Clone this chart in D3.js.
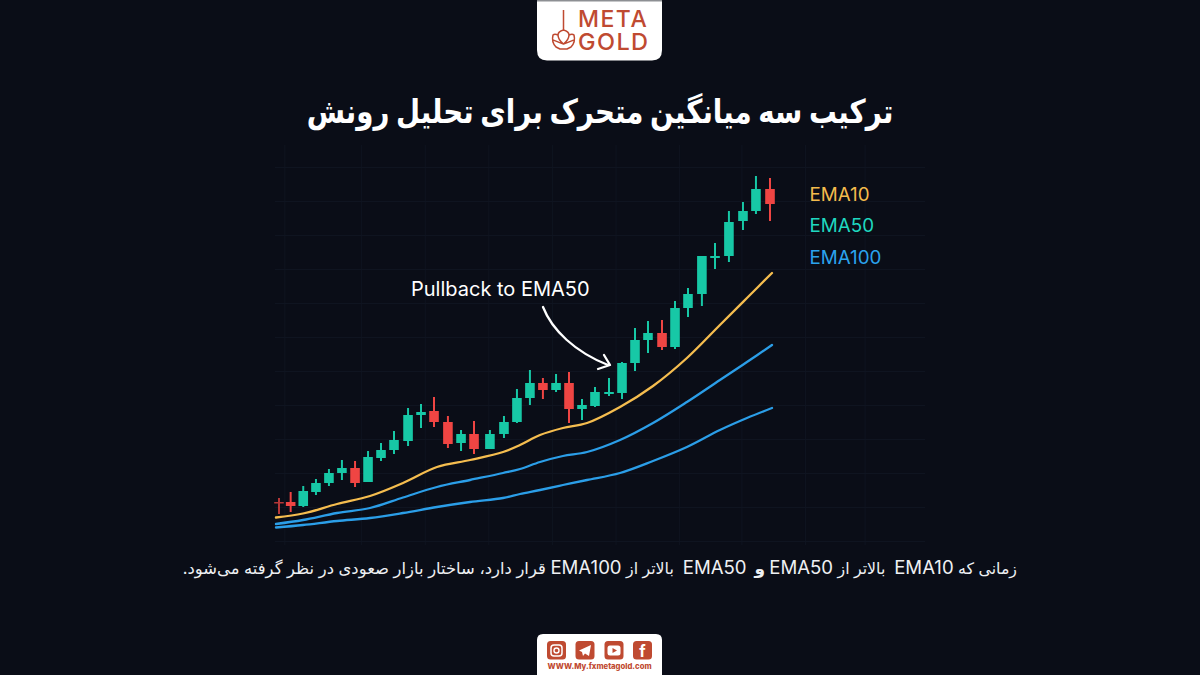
<!DOCTYPE html>
<html lang="fa">
<head>
<meta charset="utf-8">
<title>EMA trend structure</title>
<script src="https://cdn.jsdelivr.net/npm/d3@7/dist/d3.min.js"></script>
<style>
  html, body { margin: 0; padding: 0; background: #0a0d17; }
  svg { display: block; }
  text { font-family: "Inter", "DejaVu Sans", sans-serif; }
</style>
</head>
<body>
<svg id="chart" width="1200" height="675"></svg>
<script>
// Candle series: session position on the time axis plus open / high / low / close
const sessions = [0, 0.88, 1.83, 2.79, 3.77, 4.75, 5.74, 6.72, 7.7, 8.68, 9.74, 10.72, 11.7, 12.75, 13.74, 14.72, 15.92, 16.98, 17.96, 18.94, 19.92, 20.91, 21.89, 22.87, 23.85, 24.91, 25.89, 26.87, 27.85, 28.91, 29.89, 30.87, 31.92, 32.91, 33.96, 35.02, 36, 37.06];
const opens  = [2086, 2086, 2078, 2106, 2124, 2144, 2154, 2126, 2174, 2190, 2208, 2260, 2268, 2246, 2204, 2222, 2192, 2222, 2246, 2294, 2324, 2310, 2324, 2272, 2278, 2302, 2304, 2364, 2410, 2424, 2396, 2474, 2502, 2574, 2578, 2648, 2668, 2712];
const highs  = [2094, 2106, 2118, 2132, 2152, 2170, 2168, 2188, 2204, 2228, 2274, 2282, 2296, 2258, 2230, 2248, 2230, 2258, 2312, 2350, 2334, 2342, 2346, 2292, 2316, 2334, 2366, 2434, 2448, 2450, 2488, 2514, 2578, 2604, 2668, 2686, 2738, 2734];
const lows   = [2062, 2066, 2076, 2100, 2118, 2130, 2116, 2126, 2168, 2182, 2198, 2234, 2236, 2194, 2188, 2182, 2192, 2214, 2244, 2280, 2292, 2306, 2244, 2250, 2276, 2298, 2292, 2348, 2384, 2390, 2392, 2456, 2478, 2552, 2566, 2630, 2662, 2648];
const closes = [2084, 2078, 2108, 2124, 2144, 2154, 2124, 2176, 2190, 2210, 2260, 2266, 2246, 2202, 2222, 2192, 2222, 2246, 2294, 2324, 2310, 2324, 2272, 2280, 2306, 2306, 2364, 2410, 2424, 2396, 2474, 2502, 2578, 2578, 2646, 2668, 2712, 2682];

// Moving averages, sampled along the same time axis
const emaSessions = [-0.23, 1.81, 4.38, 6.87, 9.36, 11.92, 14.42, 16.91, 18.19, 19.7, 21.43, 23.25, 25.74, 28.23, 30.79, 33.28, 35.32, 37.21];
const ema10  = [2055, 2063, 2082, 2098, 2124, 2156, 2170, 2186, 2200, 2220, 2234, 2244, 2276, 2318, 2374, 2440, 2494, 2544];
const ema50  = [2042, 2050, 2064, 2074, 2095, 2116, 2130, 2144, 2152, 2166, 2178, 2186, 2210, 2244, 2286, 2330, 2366, 2400];
const ema100 = [2035, 2040, 2048, 2054, 2064, 2076, 2086, 2094, 2102, 2110, 2120, 2130, 2144, 2168, 2196, 2230, 2254, 2274];

const legendLabels = ["EMA10", "EMA50", "EMA100"];
const legendColors = ["#f4bb4c", "#1fd8c0", "#2ba3ee"];

const gridPrices = [2008, 2076, 2144, 2212, 2280, 2348, 2416, 2484, 2552, 2620, 2688, 2756];
const gridSessions = [0.4, 6.2, 11, 15.8, 20.6, 25.4, 30.2, 34.9, 39.7, 44.2];

const titleText = "ترکیب سه میانگین متحرک برای تحلیل رونش";
const annotationText = "Pullback to EMA50";
const captionParts = [
  { text: "زمانی که ", size: 15.8, weight: 400 },
  { text: "EMA10", size: 18.6, weight: 400 },
  { text: "  بالاتر از ", size: 15.8, weight: 400 },
  { text: "EMA50", size: 18.6, weight: 400 },
  { text: " و  ", size: 17, weight: 700 },
  { text: "EMA50", size: 18.6, weight: 400 },
  { text: "  بالاتر از ", size: 15.8, weight: 400 },
  { text: "EMA100", size: 18.6, weight: 400 },
  { text: " قرار دارد، ساختار بازار صعودی در نظر گرفته می‌شود.", size: 16.4, weight: 400 }
];
const siteText = "WWW.My.fxmetagold.com";

const svg = d3.select("#chart");
const x = d3.scaleLinear().domain([0, 37.06]).range([279, 770]);
const y = d3.scaleLinear().domain([2000, 2800]).range([545, 145]);

// Faint chart grid
const gridColor = "#0f1420";
const gridX = d3.axisBottom(x).tickValues(gridSessions).tickSize(400).tickFormat("");
const gridY = d3.axisLeft(y).tickValues(gridPrices).tickSize(-650).tickFormat("");
const gx = svg.append("g").attr("transform", "translate(0,145)").call(gridX);
const gy = svg.append("g").attr("transform", "translate(275,0)").call(gridY);
[gx, gy].forEach(g => {
  g.select(".domain").remove();
  g.selectAll("line").attr("stroke", gridColor).attr("stroke-width", 1);
});

// Moving-average lines
const line = d3.line().x((d, i) => x(emaSessions[i])).y(d => y(d)).curve(d3.curveCatmullRom.alpha(0.5));
[[ema100, "#2b9ee8"], [ema50, "#2b9ee8"], [ema10, "#f5bd4f"]].forEach(([vals, color]) => {
  svg.append("path").datum(vals).attr("d", line)
    .attr("fill", "none").attr("stroke", color).attr("stroke-width", 2.3)
    .attr("stroke-linecap", "round");
});

// Candles
const candleUp = "#17c8a6", candleDown = "#ef4543";
const candles = svg.append("g").selectAll("g").data(sessions).join("g")
  .attr("fill", (d, i) => closes[i] >= opens[i] ? candleUp : candleDown)
  .attr("stroke", (d, i) => closes[i] >= opens[i] ? candleUp : candleDown)
  .attr("opacity", (d, i) => i === 0 ? 0.75 : 1);
candles.append("line")
  .attr("x1", d => x(d)).attr("x2", d => x(d))
  .attr("y1", (d, i) => y(highs[i])).attr("y2", (d, i) => y(lows[i]))
  .attr("stroke-width", 2);
candles.append("rect")
  .attr("x", d => x(d) - 4.8).attr("width", 9.6)
  .attr("y", (d, i) => y(Math.max(opens[i], closes[i])))
  .attr("height", (d, i) => Math.max(1.5, Math.abs(y(opens[i]) - y(closes[i]))))
  .attr("stroke", "none");

// Legend
svg.append("g").selectAll("text").data(legendLabels).join("text")
  .attr("x", 809.5).attr("y", (d, i) => [201, 232, 264][i])
  .attr("fill", (d, i) => legendColors[i])
  .attr("font-size", 18.8).attr("font-weight", 400).text(d => d);

// Annotation and its arrow
svg.append("text").attr("x", 411).attr("y", 296).attr("fill", "#fff")
  .attr("font-size", 20).attr("font-weight", 400).text(annotationText);
svg.append("path")
  .attr("d", "M543,307 C552,330 575,352 608,365 M604,355 L610,365 L598,369")
  .attr("fill", "none").attr("stroke", "#fff").attr("stroke-width", 2.3)
  .attr("stroke-linecap", "round").attr("stroke-linejoin", "round");

// Headline and explanatory line
svg.append("text").attr("transform", "translate(600,123) scale(0.84,1)").attr("text-anchor", "middle")
  .attr("direction", "rtl").attr("fill", "#fff").attr("font-weight", 700)
  .attr("font-size", 33).attr("font-family", "'DejaVu Sans'").text(titleText);

const caption = svg.append("text").attr("x", 1017).attr("y", 574).attr("text-anchor", "start")
  .attr("direction", "rtl").attr("fill", "#eef0f3").style("white-space", "pre");
captionParts.forEach(p => {
  caption.append("tspan").attr("font-size", p.size).attr("font-weight", p.weight).text(p.text);
});

// Brand plate at the top
const brand = "#bf4a31";
const logo = svg.append("g");
logo.append("path").attr("fill", "#fff")
  .attr("d", "M537,0 H662 V50 Q662,60.5 652,60.5 H547 Q537,60.5 537,50 Z");
logo.append("rect").attr("x", 537).attr("y", 0).attr("width", 125).attr("height", 1.5).attr("fill", "#8d8f93");
logo.append("path").attr("fill", "none").attr("stroke", brand).attr("stroke-width", 1.5)
  .attr("stroke-linejoin", "round")
  .attr("d", "M563.5,10 V30 M563.5,30 C560,31 558,33 558,35 C556,34 554,34 553,35 C552,39 553,44 556,47 L560,49 H567 L571,47 C574,44 575,39 574,35 C573,34 571,34 569,35 C569,33 567,31 563.5,30 Z M558,35 C558,39 561,42 563.5,44 C566,42 569,39 569,35 M553,40 C556,41 560,43 563.5,44 C567,43 571,41 574,40");
logo.append("text").attr("x", 578).attr("y", 27).attr("fill", brand)
  .attr("font-size", 23).attr("font-weight", 500).attr("letter-spacing", 1.5).text("META");
logo.append("text").attr("x", 578).attr("y", 50).attr("fill", brand)
  .attr("font-size", 23.5).attr("font-weight", 500).attr("letter-spacing", 1.4).text("GOLD");

// Social plate at the bottom
const social = svg.append("g");
social.append("path").attr("fill", "#fff")
  .attr("d", "M537,675 V640 Q537,634 543,634 H656 Q662,634 662,640 V675 Z");
const iconX = [547, 575.5, 604.5, 633];
social.selectAll("rect.icon").data(iconX).join("rect").attr("class", "icon")
  .attr("x", d => d).attr("y", 641).attr("width", 19).attr("height", 18.5).attr("rx", 3.5).attr("fill", brand);
social.append("rect").attr("x", 551).attr("y", 645).attr("width", 11).attr("height", 11).attr("rx", 3)
  .attr("fill", "none").attr("stroke", "#fff").attr("stroke-width", 1.5);
social.append("circle").attr("cx", 556.5).attr("cy", 650.5).attr("r", 2.5)
  .attr("fill", "none").attr("stroke", "#fff").attr("stroke-width", 1.4);
social.append("path").attr("fill", "#fff").attr("d", "M579,650.5 L591,645 L589,656 L585,653.5 L583,656 L582,652 Z");
social.append("rect").attr("x", 607.5).attr("y", 645.5).attr("width", 13).attr("height", 10).attr("rx", 2.5).attr("fill", "#fff");
social.append("path").attr("fill", brand).attr("d", "M612.5,648 L617,650.5 L612.5,653 Z");
social.append("text").attr("x", 642.5).attr("y", 657).attr("text-anchor", "middle")
  .attr("fill", "#fff").attr("font-size", 16).attr("font-weight", 700).text("f");
social.append("text").attr("x", 599.5).attr("y", 669).attr("text-anchor", "middle")
  .attr("fill", brand).attr("font-size", 7.7).attr("font-weight", 800)
  .attr("font-family", "'DejaVu Sans'").text(siteText);
</script>
</body>
</html>
